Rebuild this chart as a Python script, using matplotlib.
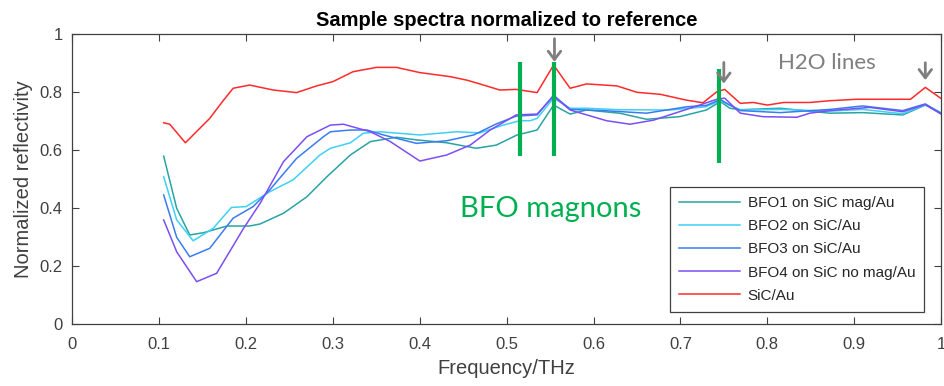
import matplotlib
matplotlib.use("Agg")
import matplotlib.pyplot as plt

plt.rcParams['font.family'] = ['Liberation Sans', 'DejaVu Sans']

# ---------------- data ----------------
x_red = [0.105, 0.112, 0.130, 0.158, 0.174, 0.185, 0.204, 0.231, 0.258, 0.281, 0.300, 0.323,
         0.350, 0.373, 0.400, 0.435, 0.454, 0.469, 0.492, 0.511, 0.535, 0.554, 0.573, 0.592,
         0.627, 0.650, 0.677, 0.707, 0.726, 0.742, 0.751, 0.769, 0.784, 0.800, 0.819, 0.849,
         0.872, 0.903, 0.930, 0.965, 0.982, 1.0]
y_red = [0.695, 0.690, 0.626, 0.710, 0.773, 0.814, 0.825, 0.808, 0.799, 0.822, 0.837, 0.871,
         0.886, 0.886, 0.868, 0.854, 0.842, 0.829, 0.808, 0.810, 0.799, 0.894, 0.814, 0.829,
         0.822, 0.800, 0.793, 0.773, 0.764, 0.802, 0.810, 0.762, 0.765, 0.756, 0.765, 0.765,
         0.771, 0.776, 0.776, 0.776, 0.817, 0.779]

x_bfo1 = [0.105, 0.120, 0.135, 0.151, 0.178, 0.204, 0.216, 0.243, 0.270, 0.293, 0.320, 0.343,
          0.373, 0.396, 0.431, 0.465, 0.488, 0.512, 0.527, 0.535, 0.554, 0.573, 0.592, 0.630,
          0.661, 0.699, 0.730, 0.746, 0.757, 0.769, 0.815, 0.872, 0.910, 0.956, 0.982, 1.0]
y_bfo1 = [0.580, 0.400, 0.308, 0.316, 0.339, 0.339, 0.346, 0.383, 0.440, 0.509, 0.584, 0.630,
          0.645, 0.636, 0.626, 0.607, 0.618, 0.653, 0.664, 0.670, 0.756, 0.725, 0.739, 0.728,
          0.707, 0.716, 0.739, 0.768, 0.745, 0.740, 0.745, 0.728, 0.730, 0.722, 0.756, 0.728]

x_bfo2 = [0.105, 0.120, 0.139, 0.162, 0.183, 0.200, 0.227, 0.254, 0.285, 0.297, 0.320, 0.335,
          0.354, 0.400, 0.442, 0.469, 0.496, 0.515, 0.527, 0.535, 0.554, 0.573, 0.592, 0.630,
          0.688, 0.729, 0.746, 0.769, 0.815, 0.872, 0.910, 0.956, 0.982, 1.0]
y_bfo2 = [0.509, 0.360, 0.288, 0.331, 0.403, 0.406, 0.457, 0.498, 0.584, 0.607, 0.626, 0.659,
          0.664, 0.653, 0.664, 0.660, 0.687, 0.702, 0.702, 0.710, 0.780, 0.745, 0.745, 0.740,
          0.739, 0.750, 0.770, 0.739, 0.741, 0.735, 0.741, 0.726, 0.757, 0.730]

x_bfo3 = [0.105, 0.120, 0.135, 0.158, 0.185, 0.208, 0.227, 0.258, 0.289, 0.297, 0.320, 0.339,
          0.358, 0.396, 0.431, 0.462, 0.488, 0.511, 0.535, 0.554, 0.573, 0.611, 0.661, 0.707,
          0.730, 0.746, 0.757, 0.769, 0.815, 0.872, 0.910, 0.956, 0.982, 1.0]
y_bfo3 = [0.446, 0.300, 0.233, 0.262, 0.366, 0.406, 0.463, 0.572, 0.647, 0.664, 0.670, 0.670,
          0.653, 0.624, 0.633, 0.653, 0.691, 0.718, 0.722, 0.790, 0.741, 0.737, 0.728, 0.750,
          0.755, 0.775, 0.756, 0.737, 0.730, 0.741, 0.753, 0.737, 0.760, 0.728]

x_bfo4 = [0.105, 0.120, 0.143, 0.166, 0.197, 0.216, 0.243, 0.270, 0.297, 0.312, 0.343, 0.366,
          0.400, 0.431, 0.458, 0.481, 0.511, 0.535, 0.554, 0.573, 0.615, 0.642, 0.669, 0.707,
          0.742, 0.751, 0.769, 0.795, 0.834, 0.849, 0.872, 0.918, 0.956, 0.982, 1.0]
y_bfo4 = [0.360, 0.250, 0.147, 0.176, 0.331, 0.417, 0.561, 0.647, 0.687, 0.690, 0.664, 0.630,
          0.563, 0.584, 0.618, 0.670, 0.722, 0.725, 0.787, 0.739, 0.702, 0.690, 0.704, 0.741,
          0.776, 0.780, 0.728, 0.716, 0.714, 0.728, 0.737, 0.748, 0.733, 0.758, 0.725]

labels = ["BFO1 on SiC mag/Au", "BFO2 on SiC/Au", "BFO3 on SiC/Au",
          "BFO4 on SiC no mag/Au", "SiC/Au"]

magnon_freqs = [0.515, 0.555, 0.744]
magnon_lo = [0.58, 0.58, 0.557]
magnon_hi = [0.903, 0.905, 0.879]

h2o_freqs = [0.555, 0.750, 0.982]
h2o_tail = [0.985, 0.903, 0.902]
h2o_tip = [0.905, 0.830, 0.842]

xticks = [0, 0.1, 0.2, 0.3, 0.4, 0.5, 0.6, 0.7, 0.8, 0.9, 1]
xticklabels = ["0", "0.1", "0.2", "0.3", "0.4", "0.5", "0.6", "0.7", "0.8", "0.9", "1"]
yticks = [0, 0.2, 0.4, 0.6, 0.8, 1]
yticklabels = ["0", "0.2", "0.4", "0.6", "0.8", "1"]

# ---------------- figure ----------------
fig = plt.figure(figsize=(9.45, 3.86), dpi=100)
ax = fig.add_axes([0.0767, 0.1598, 0.9190, 0.7513])

series = [(x_bfo1, y_bfo1, "#2aa3a3"),
          (x_bfo2, y_bfo2, "#3fd0f5"),
          (x_bfo3, y_bfo3, "#3a7cf0"),
          (x_bfo4, y_bfo4, "#7b4ff5"),
          (x_red, y_red, "#ff2a2a")]
for (xs, ys, c), lab in zip(series, labels):
    ax.plot(xs, ys, color=c, lw=1.1, label=lab)

green = "#00b050"
for f, lo, hi in zip(magnon_freqs, magnon_lo, magnon_hi):
    ax.plot([f, f], [lo, hi], color=green, lw=3.0, solid_capstyle='butt')

for f, t0, t1 in zip(h2o_freqs, h2o_tail, h2o_tip):
    ax.annotate("", xy=(f, t1), xytext=(f, t0),
                arrowprops=dict(arrowstyle="->,head_length=0.6,head_width=0.45",
                                color="#7f7f7f", lw=2.0, shrinkA=0, shrinkB=0))

ax.text(0.812, 0.90, "H2O lines", color="#7f7f7f", fontsize=16,
        family=['Lato', 'DejaVu Sans'], va='center', ha='left')
ax.text(0.446, 0.369, "BFO magnons", color=green, fontsize=21,
        family=['Lato', 'DejaVu Sans'], va='baseline', ha='left')

ax.set_xlim(0, 1)
ax.set_ylim(0, 1)
ax.set_xticks(xticks)
ax.set_xticklabels(xticklabels)
ax.set_yticks(yticks)
ax.set_yticklabels(yticklabels)
axcol = "#404040"
ax.tick_params(direction='in', length=5, width=0.8, top=True, right=True,
               labelsize=12, colors=axcol)
ax.tick_params(axis='x', pad=9)
ax.tick_params(axis='y', pad=7)
for s in ax.spines.values():
    s.set_color(axcol)
    s.set_linewidth(0.9)

ax.set_xlabel("Frequency/THz", fontsize=14.5, color=axcol, labelpad=5)
ax.set_ylabel("Normalized reflectivity", fontsize=14.5, color=axcol, labelpad=5)
ax.set_title("Sample spectra normalized to reference", fontsize=14.5,
             fontweight='bold', color='black', pad=6)

leg = ax.legend(loc='lower right', bbox_to_anchor=(0.981, 0.043), borderaxespad=0,
                fontsize=11, handlelength=4.0, handletextpad=0.5, labelspacing=0.6,
                fancybox=False, framealpha=1, edgecolor=axcol, borderpad=0.6)
leg.get_frame().set_linewidth(0.9)
for t in leg.get_texts():
    t.set_color("#262626")

fig.savefig("out.png", dpi=100)
